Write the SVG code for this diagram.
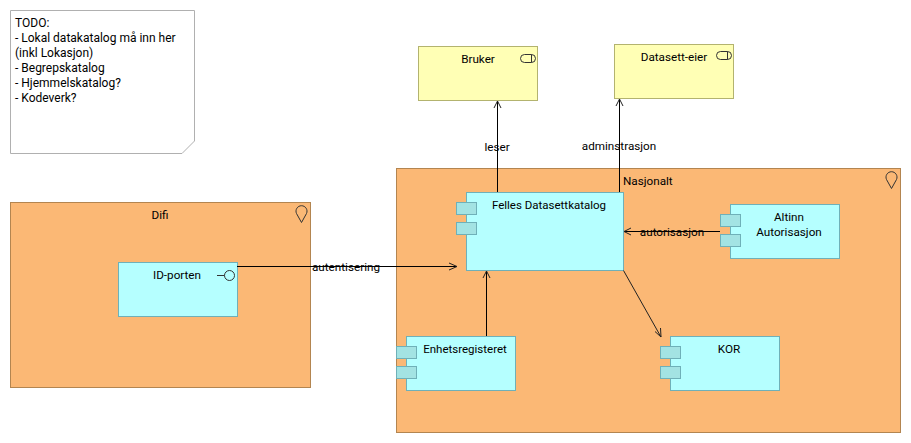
<svg xmlns="http://www.w3.org/2000/svg" width="911" height="443" viewBox="0 0 911 443">
<style>
text{font-family:Roboto,"Open Sans","Liberation Sans",sans-serif;font-size:11.7px;fill:#000}
#note text{font-size:12px}
.n{font-size:11.5px}
.c{text-anchor:middle}
.loc{fill:#fbb875;stroke:#b38550}
.app{fill:#b5ffff;stroke:#6fb0b8}
.port{fill:#a3e3e3;stroke:#6fb0b8}
.act{fill:#ffffb5;stroke:#b3b36f}
.ic{fill:none;stroke:#333}
.ln{fill:none;stroke:#000}
.ar{fill:none;stroke:#222}
</style>
<rect width="911" height="443" fill="#fff"/>
<g id="note">
<path d="M10.5 10.500H194.500V141L182 153.500H10.500Z" fill="#fff" stroke="#b0b0b0"/>
<text x="15" y="27">TODO:</text>
<text x="15" y="42">- Lokal datakatalog må inn her</text>
<text x="15" y="57">(inkl Lokasjon)</text>
<text x="15" y="72">- Begrepskatalog</text>
<text x="15" y="87">- Hjemmelskatalog?</text>
<text x="15" y="102">- Kodeverk?</text>
</g>
<g id="difi">
<rect class="loc" x="10.500" y="202.500" width="300" height="185"/>
<path class="ic" d="M301.500 222.500L296.500 213.500A5.500 5.500 0 1 1 306.500 213.500Z"/>
<text class="c" x="160" y="219">Difi</text>
</g>
<g id="nasjonalt">
<rect class="loc" x="396.500" y="168.500" width="504" height="264"/>
<path class="ic" d="M891.500 188.500L886.500 179.500A5.500 5.500 0 1 1 896.500 179.500Z"/>
<text x="623" y="185">Nasjonalt</text>
</g>
<g id="bruker">
<rect class="act" x="418.500" y="46.500" width="119" height="54"/>
<rect class="ic" x="520.500" y="54.500" width="15" height="8" rx="4"/>
<path class="ic" d="M531.500 54.500V62.500"/>
<text class="c" x="478" y="63">Bruker</text>
</g>
<g id="datasett-eier">
<rect class="act" x="614.500" y="44.500" width="119" height="54"/>
<rect class="ic" x="716.500" y="51.500" width="15" height="8" rx="4"/>
<path class="ic" d="M727.500 51.500V59.500"/>
<text class="c" x="674" y="61">Datasett-eier</text>
</g>
<g id="id-porten">
<rect class="app" x="118.500" y="262.500" width="119" height="54"/>
<circle class="ic" cx="229.500" cy="275.500" r="5"/>
<path class="ic" d="M217 275.500H224.500"/>
<text class="c" x="177" y="279">ID-porten</text>
</g>
<g id="felles">
<rect class="app" x="466.500" y="192.500" width="157" height="78"/>
<rect class="port" x="456.500" y="202.500" width="20" height="12"/>
<rect class="port" x="456.500" y="222.500" width="20" height="12"/>
<text class="c n" x="549" y="209">Felles Datasettkatalog</text>
</g>
<g id="altinn">
<rect class="app" x="730.500" y="204.500" width="109" height="54"/>
<rect class="port" x="720.500" y="214.500" width="20" height="12"/>
<rect class="port" x="720.500" y="234.500" width="20" height="12"/>
<text class="c" x="789" y="221">Altinn</text>
<text class="c" x="789" y="236">Autorisasjon</text>
</g>
<g id="kor">
<rect class="app" x="670.500" y="336.500" width="109" height="54"/>
<rect class="port" x="660.500" y="346.500" width="20" height="12"/>
<rect class="port" x="660.500" y="366.500" width="20" height="12"/>
<text class="c" x="729" y="353">KOR</text>
</g>
<g id="enhetsregisteret">
<rect class="app" x="406.500" y="336.500" width="109" height="54"/>
<rect class="port" x="396.500" y="346.500" width="20" height="12"/>
<rect class="port" x="396.500" y="366.500" width="20" height="12"/>
<text class="c n" x="465" y="353">Enhetsregisteret</text>
</g>
<g id="connectors">
<path class="ln" d="M497.500 192V101"/>
<path class="ar" d="M494 108L497.500 101L501 108"/>
<path class="ln" d="M619.500 192V99"/>
<path class="ar" d="M616 106L619.500 99L623 106"/>
<path class="ln" d="M720 231.500H624"/>
<path class="ar" d="M631 228L624 231.500L631 235"/>
<path class="ln" d="M237 266.500H457"/>
<path class="ar" d="M449 263L457 266.500L449 270"/>
<path class="ln" d="M486.500 336V271"/>
<path class="ar" d="M483 278L486.500 271L490 278"/>
<path class="ar" d="M623.500 270.500L661 337M655 331.500L661 337L660.500 328"/>
<text class="c" x="497" y="151">leser</text>
<text class="c" x="619" y="150">adminstrasjon</text>
<text class="c" x="672" y="236">autorisasjon</text>
<text class="c" x="346" y="271">autentisering</text>
</g>
</svg>
